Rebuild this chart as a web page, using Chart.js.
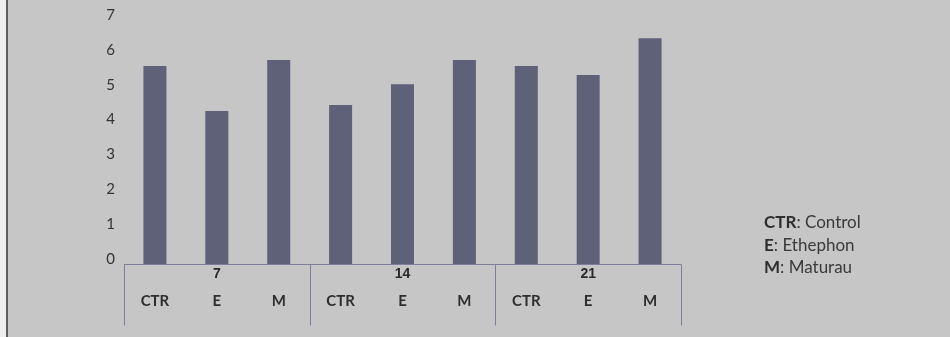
<!DOCTYPE html>
<html>
<head>
<meta charset="utf-8">
<script src="https://cdn.jsdelivr.net/npm/chart.js@4"></script>
<style>
  body { margin: 0; background: #c6c6c6; }
  #wrap { position: relative; width: 950px; height: 337px; overflow: hidden; }
  #strip { position: absolute; left: 0; top: 0; width: 6px; height: 337px; background: #ededed; }
  #edge { position: absolute; left: 6px; top: 0; width: 2px; height: 337px; background: #5c5c5c; }
  #chart { position: absolute; left: 0; top: 0; }
  #key { position: absolute; left: 764px; top: 211px; font-family: Lato, sans-serif; font-size: 17px; line-height: 22.5px; color: #3a3a3a; }
  #key b { color: #2e2e2e; }
</style>
</head>
<body>
<div id="wrap">
  <div id="strip"></div>
  <div id="edge"></div>
  <canvas id="chart" width="950" height="337"></canvas>
  <div id="key"></div>
</div>
<script>
// days after treatment, and treatments within each day
const days = ["7", "14", "21"];
const treatments = ["CTR", "E", "M"];
const values = [5.68, 4.39, 5.85, 4.56, 5.16, 5.85, 5.68, 5.42, 6.48];
const keyCodes = ["CTR", "E", "M"];
const keyNames = ["Control", "Ethephon", "Maturau"];

const labels = [];
days.forEach(() => treatments.forEach(t => labels.push(t)));

document.getElementById("key").innerHTML = keyCodes
  .map((c, i) => "<div><b>" + c + "</b>: " + keyNames[i] + "</div>")
  .join("");

const lineColor = "#7d7f98";

// box under the axis: baseline, group separators and day labels
const groupBoxes = {
  id: "groupBoxes",
  afterDraw(chart) {
    const { ctx, chartArea } = chart;
    const x = chart.scales.x;
    const half = (x.getPixelForValue(1) - x.getPixelForValue(0)) / 2;
    const per = treatments.length;
    const edges = [];
    for (let g = 0; g < days.length; g++) edges.push(x.getPixelForValue(g * per) - half);
    edges.push(x.getPixelForValue(labels.length - 1) + half);
    const y0 = Math.round(chartArea.bottom) + 0.5;

    ctx.save();
    ctx.strokeStyle = lineColor;
    ctx.lineWidth = 1;
    ctx.beginPath();
    ctx.moveTo(edges[0], y0);
    ctx.lineTo(edges[edges.length - 1], y0);
    edges.forEach(e => {
      const xe = Math.round(e) + 0.5;
      ctx.moveTo(xe, y0);
      ctx.lineTo(xe, y0 + 61);
    });
    ctx.stroke();

    ctx.fillStyle = "#2a2a2a";
    ctx.font = "bold 14px 'Liberation Sans', Arial, sans-serif";
    ctx.textAlign = "center";
    ctx.textBaseline = "middle";
    days.forEach((d, g) => {
      const mid = (edges[g] + edges[g + 1]) / 2;
      ctx.fillText(d, mid, y0 + 10);
    });
    ctx.restore();
  }
};

new Chart("chart", {
  type: "bar",
  data: {
    labels: labels,
    datasets: [
      {
        data: values,
        backgroundColor: "#5f6178",
        borderWidth: 0,
        categoryPercentage: 1,
        barPercentage: 0.372
      }
    ]
  },
  options: {
    responsive: false,
    animation: false,
    layout: { padding: { top: 20, right: 269, bottom: 0, left: 0 } },
    plugins: { legend: { display: false }, tooltip: { enabled: false } },
    scales: {
      y: {
        min: 0,
        max: 7,
        afterFit(scale) { scale.width = 124; },
        grid: { display: false },
        border: { display: false },
        ticks: {
          stepSize: 1,
          padding: 1,
          labelOffset: -5,
          color: "#333",
          font: { family: "Lato, sans-serif", size: 15 }
        }
      },
      x: {
        afterFit(scale) { scale.height = 73; },
        grid: { display: false },
        border: { display: false },
        ticks: {
          padding: 20,
          maxRotation: 0,
          color: "#2e2e2e",
          font: { family: "Lato, sans-serif", size: 15, weight: "bold" }
        }
      }
    }
  },
  plugins: [groupBoxes]
});
</script>
</body>
</html>
